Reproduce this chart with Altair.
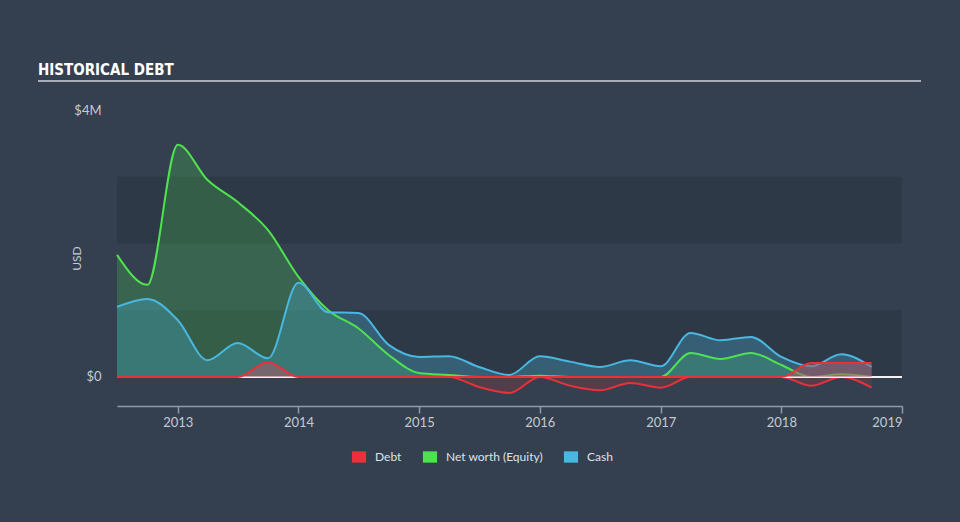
import altair as alt
import pandas as pd

# ---- data (values in $M, quarterly) ----
dates = [
    "2012-07-01", "2012-10-01", "2013-01-01", "2013-04-01", "2013-07-01", "2013-10-01",
    "2014-01-01", "2014-04-01", "2014-07-01", "2014-10-01", "2015-01-01", "2015-04-01",
    "2015-07-01", "2015-10-01", "2016-01-01", "2016-04-01", "2016-07-01", "2016-10-01",
    "2017-01-01", "2017-04-01", "2017-07-01", "2017-10-01", "2018-01-01", "2018-04-01",
    "2018-07-01", "2018-10-01",
]
equity = [1.83, 1.38, 3.48, 2.95, 2.62, 2.20, 1.50, 1.00, 0.73, 0.33, 0.06, 0.03,
          -0.15, -0.24, 0.02, -0.13, -0.20, -0.09, -0.16, 0.36, 0.27, 0.36, 0.18, -0.13,
          0.04, -0.16]
cash = [1.05, 1.17, 0.85, 0.25, 0.51, 0.28, 1.41, 0.97, 0.96, 0.48, 0.30, 0.31,
        0.15, 0.03, 0.31, 0.23, 0.15, 0.25, 0.16, 0.66, 0.55, 0.60, 0.30, 0.16,
        0.34, 0.15]
debt = [0, 0, 0, 0, 0, 0.22, 0, 0, 0, 0, 0, 0,
        0, 0, 0, 0, 0, 0, 0, 0, 0, 0, 0, 0.21,
        0.21, 0.21]

legend_names = ["Debt", "Net worth (Equity)", "Cash"]
legend_colors = ["#e8313a", "#4fe24f", "#49b7df"]
band_lo = [2, 0]
band_hi = [3, 1]
y_ticks = [0, 4]

df = pd.DataFrame({"date": dates, "equity": equity, "cash": cash, "debt": debt})
bands = pd.DataFrame({"lo": band_lo, "hi": band_hi})

W, H = 785, 296
RED, GREEN, BLUE = legend_colors
FONT = "Lato"
LBL = "#c3cad3"

xscale = alt.Scale(domain=["2012-07-01", "2019-01-01"])
yscale = alt.Scale(domain=[-0.435, 4], nice=False, zero=False)

X = alt.X("date:T", scale=xscale, title=None,
          axis=alt.Axis(format="%Y", tickCount={"interval": "year", "step": 1}, grid=False,
                        domainColor="#8f9aa9", domainWidth=1.5, tickColor="#8f9aa9",
                        tickSize=7, tickWidth=1.5, labelColor=LBL, labelFontSize=13,
                        labelPadding=3, labelFlush=True, labelFont=FONT))

yaxis = alt.Axis(values=y_ticks, labelExpr="datum.value == 0 ? '$0' : '$4M'",
                 grid=False, domain=False, ticks=False, tickSize=0, labelPadding=16,
                 labelColor=LBL, labelFontSize=13, labelFont=FONT,
                 title="USD", titleColor=LBL, titleFontWeight="normal", titleFontSize=12,
                 titleFont=FONT, titleX=-34, titleY=148)

base = alt.Chart(df).transform_calculate(
    eqpos="max(datum.equity, 0)", eqneg="min(datum.equity, 0)", zero="0"
)

band_layer = alt.Chart(bands).mark_rect(color="#2e3947").encode(
    x=alt.value(0), x2=alt.value(W),
    y=alt.Y("hi:Q", scale=yscale, axis=yaxis), y2="lo:Q")

g_area = base.mark_area(color=GREEN, opacity=0.22, interpolate="monotone").encode(
    x=X, y=alt.Y("eqpos:Q", scale=yscale), y2="zero:Q")
c_area = base.mark_area(color=BLUE, opacity=0.3, interpolate="monotone").encode(
    x=X, y=alt.Y("cash:Q", scale=yscale), y2="zero:Q")
g_line = base.mark_line(color=GREEN, strokeWidth=2, interpolate="monotone").encode(
    x=X, y=alt.Y("eqpos:Q", scale=yscale))
c_line = base.mark_line(color=BLUE, strokeWidth=2, interpolate="monotone").encode(
    x=X, y=alt.Y("cash:Q", scale=yscale))
n_area = base.mark_area(color=RED, opacity=0.18, interpolate="monotone").encode(
    x=X, y=alt.Y("eqneg:Q", scale=yscale), y2="zero:Q")
n_line = base.mark_line(color=RED, strokeWidth=2, interpolate="monotone").encode(
    x=X, y=alt.Y("eqneg:Q", scale=yscale))

zero_rule = alt.Chart(bands).mark_rule(color="#ffffff", strokeWidth=1.5).encode(
    y=alt.datum(0, scale=yscale), x=alt.value(0), x2=alt.value(W))

d_area = base.mark_area(color="#a85a66", opacity=0.55, interpolate="monotone").encode(
    x=X, y=alt.Y("debt:Q", scale=yscale), y2="zero:Q")
d_line = base.mark_line(color=RED, strokeWidth=2, interpolate="monotone").encode(
    x=X, y=alt.Y("debt:Q", scale=yscale))

leg_df = pd.DataFrame({"name": legend_names})
legend_layer = alt.Chart(leg_df).transform_filter("false").mark_square(
    filled=True, opacity=1).encode(
    color=alt.Color("name:N",
                    scale=alt.Scale(domain=legend_names, range=legend_colors),
                    legend=alt.Legend(orient="none", legendX=234, legendY=339,
                                      direction="horizontal", title=None,
                                      symbolType="M-1,-0.8L1,-0.8L1,0.8L-1,0.8Z",
                                      symbolSize=200, symbolOpacity=1,
                                      labelColor="#dde2e8", labelFontSize=12,
                                      labelFont=FONT, labelOffset=8,
                                      columnPadding=20)))

title_df = pd.DataFrame({"t": ["HISTORICAL DEBT"]})
title_layer = alt.Chart(title_df).mark_text(
    align="left", baseline="alphabetic",
    font="'DejaVu Sans Condensed', 'Liberation Sans Narrow', 'Roboto Condensed', sans-serif",
    fontWeight="bold", fontSize=15, color="#ffffff").encode(
    text="t:N", x=alt.value(-79), y=alt.value(-35))
title_rule = alt.Chart(title_df).mark_rule(color="#a7aeb8", strokeWidth=2).encode(
    x=alt.value(-79), x2=alt.value(804), y=alt.value(-29))

chart = alt.layer(
    band_layer, g_area, c_area, g_line, c_line, n_area, n_line, zero_rule,
    d_area, d_line, legend_layer, title_layer, title_rule
).properties(
    width=W, height=H,
    autosize=alt.AutoSizeParams(type="none"),
    padding={"left": 117, "top": 110, "right": 58, "bottom": 116},
    background="#344050",
).configure_view(stroke=None)

chart.save("out.html", embed_options={"renderer": "svg", "actions": False})
